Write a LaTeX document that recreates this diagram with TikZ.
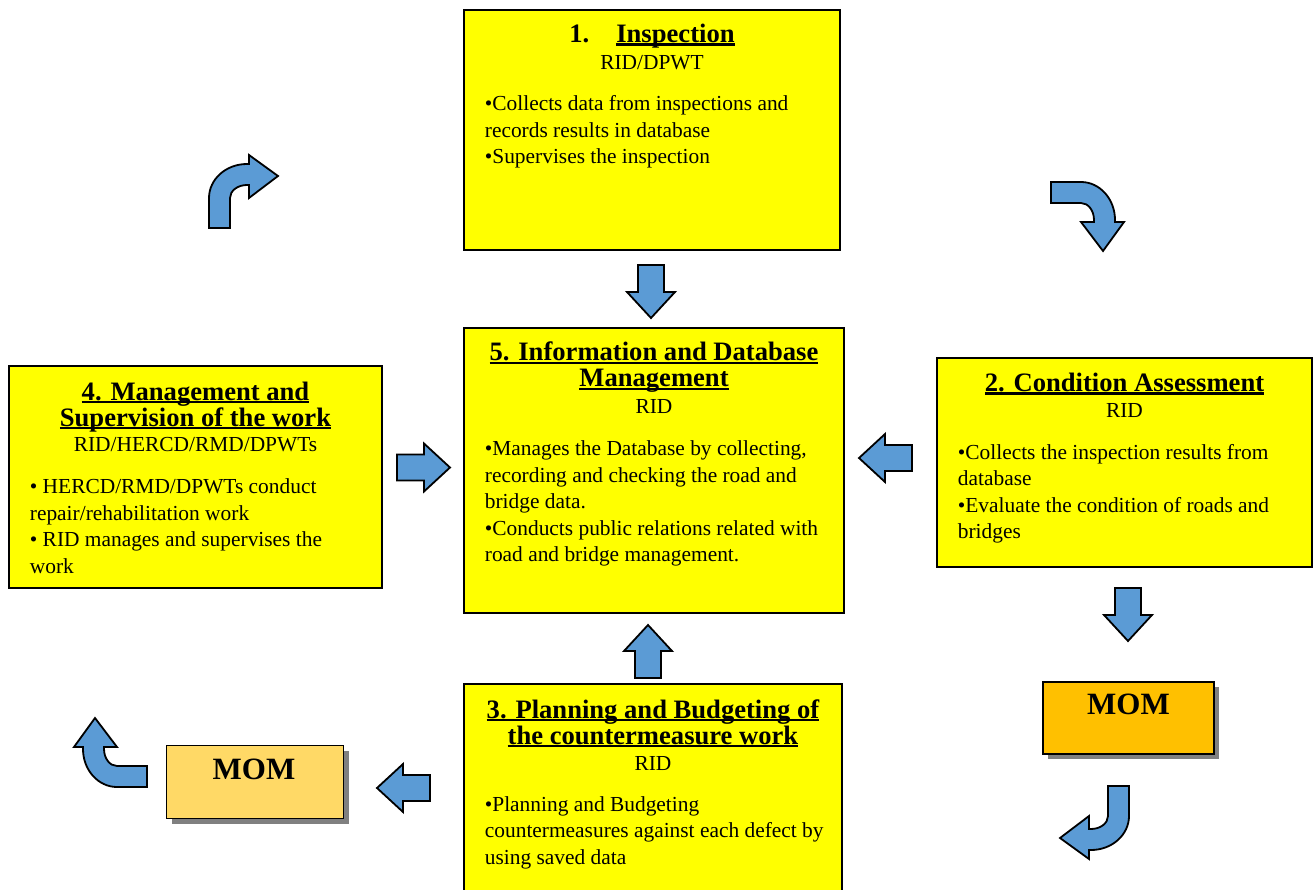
\documentclass[tikz,border=0pt]{standalone}
\usepackage{fontspec}
\setmainfont{Liberation Serif}
\usetikzlibrary{shadows}
\definecolor{boxyellow}{HTML}{FFFF00}
\definecolor{arrowblue}{HTML}{5B9BD5}
\definecolor{momorange}{HTML}{FFC000}
\definecolor{momlight}{HTML}{FFD966}
\definecolor{shadowgrey}{HTML}{808080}
% thick underline drawn just below the baseline
\newsavebox\ulinebox
\newcommand\thickul[1]{\sbox\ulinebox{#1}\rlap{\rule[-3.3pt]{\wd\ulinebox}{2.3pt}}\usebox\ulinebox}
\tikzset{
  stagebox/.style={draw=black, line width=1.6pt, fill=boxyellow, inner sep=0pt},
  % multi-line texts are placed by the baseline of their last line
  titletext/.style={font=\fontsize{26.6}{26}\selectfont\bfseries, align=center, anchor=base, inner sep=0pt},
  subtext/.style={font=\fontsize{21.4}{26.5}\selectfont, anchor=base, inner sep=0pt},
  bodytext/.style={font=\fontsize{21.4}{26.5}\selectfont, align=left, anchor=base west, inner sep=0pt},
  momtext/.style={font=\fontsize{31}{34}\selectfont\bfseries, anchor=base, inner sep=0pt},
  mombox/.style={draw=black, line width=1.6pt, inner sep=0pt,
    drop shadow={shadow xshift=5pt, shadow yshift=-5pt, fill=shadowgrey, opacity=1}},
  blockshape/.style={draw=black, line width=1.8pt, fill=arrowblue, line join=miter},
  % straight block arrow, tail centre at the origin, pointing along +x
  pics/blockarrow/.style={code={
    \path[blockshape] (0,-13) -- (27,-13) -- (27,-24) -- (53,0) -- (27,24) -- (27,13) -- (0,13) -- cycle;}},
  % bent arrow: shaft rises from the origin, turns right, head points along +x
  pics/bentarrow/.style={code={
    \path[blockshape] (0,0) -- (0,30) arc[start angle=180, end angle=90, x radius=38, y radius=34]
      -- (40,64) -- (40,73) -- (69,52) -- (40,30) -- (40,43) -- (38,43)
      arc[start angle=90, end angle=180, x radius=17, y radius=13] -- (21,0) -- cycle;}},
}
\begin{document}
\begin{tikzpicture}[x=1pt, y=1pt]
\clip (0,0) rectangle (1316,-890);
\fill[white] (0,0) rectangle (1316,-890);

% ---- 1. Inspection
\node[stagebox, minimum width=376, minimum height=240] (insp) at (652,-130) {};
\node[titletext] (insptitle) at (652,-42.3) {1.\hspace{27pt}\thickul{Inspection}};
\node[subtext] (inspsub) at (652,-69.3) {RID/DPWT};
\node[bodytext] (inspbody) at (484.7,-164) {•Collects data from inspections and\\records results in database\\•Supervises the inspection};

% ---- 5. Information and Database Management
\node[stagebox, minimum width=380, minimum height=285] (info) at (654,-470.5) {};
\node[titletext] (infotitle) at (654,-386.7) {\thickul{5. Information and Database}\\\thickul{Management}};
\node[subtext] (infosub) at (654,-413.3) {RID};
\node[bodytext] (infobody) at (484.7,-561.7) {•Manages the Database by collecting,\\recording and checking the road and\\bridge data.\\•Conducts public relations related with\\road and bridge management.};

% ---- 2. Condition Assessment
\node[stagebox, minimum width=375, minimum height=209] (cond) at (1124.5,-462.5) {};
\node[titletext] (condtitle) at (1124.5,-391.3) {\thickul{2. Condition Assessment}};
\node[subtext] (condsub) at (1124.5,-417) {RID};
\node[bodytext] (condbody) at (957.7,-538.5) {•Collects the inspection results from\\database\\•Evaluate the condition of roads and\\bridges};

% ---- 4. Management and Supervision of the work
\node[stagebox, minimum width=373, minimum height=222] (mgmt) at (195.5,-477) {};
\node[titletext] (mgmttitle) at (195.5,-426) {\thickul{4. Management and}\\\thickul{Supervision of the work}};
\node[subtext] (mgmtsub) at (195.5,-451) {RID/HERCD/RMD/DPWTs};
\node[bodytext] (mgmtbody) at (29.7,-573.3) {• HERCD/RMD/DPWTs conduct\\repair/rehabilitation work\\• RID manages and supervises the\\work};

% ---- 3. Planning and Budgeting of the countermeasure work
\node[stagebox, minimum width=378, minimum height=214] (plan) at (653,-791) {};
\node[titletext] (plantitle) at (653,-744) {\thickul{3. Planning and Budgeting of}\\\thickul{the countermeasure work}};
\node[subtext] (plansub) at (653,-770) {RID};
\node[bodytext] (planbody) at (484.7,-864) {•Planning and Budgeting\\countermeasures against each defect by\\using saved data};

% ---- MOM boxes
\node[mombox, fill=momorange, minimum width=171, minimum height=72] (momright) at (1128.5,-718) {};
\node[momtext] (momrighttxt) at (1128.5,-714) {MOM};
\node[mombox, fill=momlight, minimum width=177, minimum height=73] (momleft) at (255,-782) {};
\node[momtext] (momlefttxt) at (254,-779.3) {MOM};

% ---- straight block arrows between the stages
\pic[rotate=-90] at (651,-265) {blockarrow};     % inspection -> database
\pic at (397,-467.5) {blockarrow};               % management -> database
\pic[rotate=180] at (912,-458) {blockarrow};     % condition -> database
\pic[rotate=90] at (648,-678) {blockarrow};      % planning -> database
\pic[rotate=-90] at (1128,-588) {blockarrow};    % condition -> MOM
\pic[rotate=180] at (430,-788) {blockarrow};     % planning -> MOM

% ---- bent arrows around the cycle
\pic at (209,-228) {bentarrow};
\pic[rotate=-90] at (1051,-182) {bentarrow};
\pic[rotate=180] at (1129,-786) {bentarrow};
\pic[rotate=90] at (147,-787) {bentarrow};
\end{tikzpicture}
\end{document}
